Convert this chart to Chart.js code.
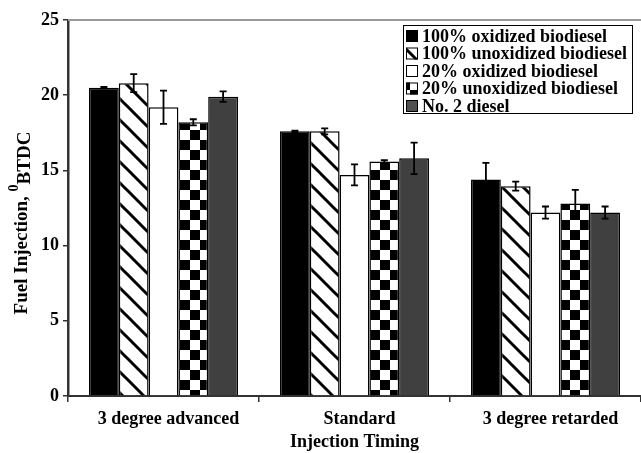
<!DOCTYPE html>
<html>
<head>
<meta charset="utf-8">
<script src="https://cdn.jsdelivr.net/npm/chart.js@4.4.0/dist/chart.umd.min.js"></script>
<style>
  html, body { margin: 0; padding: 0; background: #fff; }
  #wrap { width: 641px; height: 453px; position: relative; }
</style>
</head>
<body>
<div id="wrap"><canvas id="timingChart" width="641" height="453"></canvas></div>
<script>
// data
const categories = ['3 degree advanced', 'Standard', '3 degree retarded'];
const seriesNames = ['100% oxidized biodiesel', '100% unoxidized biodiesel', '20% oxidized biodiesel', '20% unoxidized biodiesel', 'No. 2 diesel'];
const oxid100 = [20.5, 17.6, 14.4];
const unox100 = [20.8, 17.6, 13.95];
const oxid20 = [19.2, 14.7, 12.2];
const unox20 = [18.2, 15.6, 12.8];
const diesel2 = [19.9, 15.8, 12.2];
const oxid100Err = [0.05, 0.05, 1.1];
const unox100Err = [0.6, 0.2, 0.3];
const oxid20Err = [1.1, 0.7, 0.4];
const unox20Err = [0.2, 0.08, 0.9];
const diesel2Err = [0.35, 1.05, 0.4];
const yTicks = [0, 5, 10, 15, 20, 25];

const FONT = '"Liberation Serif", "Times New Roman", serif';

function makeHatch(){
    let c = document.createElement('canvas');
    c.width = 21; c.height = 21;
    let g = c.getContext('2d');
    g.fillStyle = '#fff';
    g.fillRect(0, 0, 21, 21);
    g.strokeStyle = '#000';
    g.lineWidth = 3;
    for(let k = -1; k <= 1; k++){
        g.beginPath();
        g.moveTo(-2 + k * 21, -2);
        g.lineTo(23 + k * 21, 23);
        g.stroke();
    }
    return g.createPattern(c, 'repeat');
}

function makeChecker(){
    let c = document.createElement('canvas');
    c.width = 20; c.height = 20;
    let g = c.getContext('2d');
    g.fillStyle = '#fff';
    g.fillRect(0, 0, 20, 20);
    g.fillStyle = '#000';
    g.fillRect(0, 0, 10, 10);
    g.fillRect(10, 10, 10, 10);
    return g.createPattern(c, 'repeat');
}

let hatch = makeHatch();
let checker = makeChecker();

let fills = ['#000000', hatch, '#ffffff', checker, '#404040'];
let swatchFills = ['#000000', hatch, '#ffffff', checker, '#505050'];
let values = [oxid100, unox100, oxid20, unox20, diesel2];
let errors = [oxid100Err, unox100Err, oxid20Err, unox20Err, diesel2Err];

let datasets = [];
for(let i = 0; i < seriesNames.length; i++){
    datasets.push({
        label: seriesNames[i],
        data: values[i],
        errors: errors[i],
        backgroundColor: fills[i],
        borderColor: '#000',
        borderWidth: 1.5,
        borderSkipped: 'bottom',
        categoryPercentage: 0.78,
        barPercentage: 1.0
    });
}

// error bars, drawn from the y scale
const errorBars = {
    id: 'errorBars',
    afterDatasetsDraw(chart){
        let ctx = chart.ctx;
        let yScale = chart.scales.y;
        ctx.save();
        ctx.strokeStyle = '#000';
        ctx.lineWidth = 1.8;
        chart.data.datasets.forEach(function(ds, i){
            let meta = chart.getDatasetMeta(i);
            meta.data.forEach(function(bar, j){
                let v = ds.data[j];
                let e = ds.errors[j];
                let yTop = yScale.getPixelForValue(v + e);
                let yBot = yScale.getPixelForValue(v - e);
                ctx.beginPath();
                ctx.moveTo(bar.x, yTop);
                ctx.lineTo(bar.x, yBot);
                ctx.moveTo(bar.x - 3.5, yTop);
                ctx.lineTo(bar.x + 3.5, yTop);
                ctx.moveTo(bar.x - 3.5, yBot);
                ctx.lineTo(bar.x + 3.5, yBot);
                ctx.stroke();
            });
        });
        ctx.restore();
    }
};

// top frame line, y title with superscript, and the boxed legend
const decorations = {
    id: 'decorations',
    beforeDatasetsDraw(chart){
        let ctx = chart.ctx;
        let area = chart.chartArea;
        ctx.save();
        ctx.strokeStyle = '#999';
        ctx.lineWidth = 2;
        ctx.beginPath();
        ctx.moveTo(area.left, area.top);
        ctx.lineTo(chart.width, area.top);
        ctx.stroke();
        ctx.restore();
    },
    afterDraw(chart){
        let ctx = chart.ctx;
        ctx.save();

        // y axis title
        ctx.translate(22, 223);
        ctx.rotate(-Math.PI / 2);
        ctx.fillStyle = '#000';
        ctx.textBaseline = 'middle';
        let main = 'Fuel Injection, ';
        let sup = '0';
        let rest = 'BTDC';
        ctx.font = 'bold 19px ' + FONT;
        let w1 = ctx.measureText(main).width;
        let w3 = ctx.measureText(rest).width;
        ctx.font = 'bold 14px ' + FONT;
        let w2 = ctx.measureText(sup).width;
        let x0 = -(w1 + w2 + w3) / 2;
        ctx.font = 'bold 19px ' + FONT;
        ctx.textAlign = 'left';
        ctx.fillText(main, x0, 0);
        ctx.font = 'bold 14px ' + FONT;
        ctx.fillText(sup, x0 + w1, -8);
        ctx.font = 'bold 19px ' + FONT;
        ctx.fillText(rest, x0 + w1 + w2, 3);
        ctx.restore();

        // legend box
        ctx.save();
        let lx = 403, ly = 25, lw = 229, lh = 88;
        ctx.fillStyle = '#fff';
        ctx.fillRect(lx, ly, lw, lh);
        ctx.strokeStyle = '#000';
        ctx.lineWidth = 1;
        ctx.strokeRect(lx + 0.5, ly + 0.5, lw, lh);
        ctx.font = 'bold 18px ' + FONT;
        ctx.textBaseline = 'middle';
        ctx.textAlign = 'left';
        chart.data.datasets.forEach(function(ds, i){
            let cy = ly + 11 + i * 17.5;
            ctx.fillStyle = swatchFills[i];
            ctx.fillRect(lx + 3, cy - 6, 12, 12);
            ctx.strokeStyle = '#000';
            ctx.lineWidth = 1;
            ctx.strokeRect(lx + 3.5, cy - 5.5, 11, 11);
            ctx.fillStyle = '#000';
            ctx.fillText(ds.label, lx + 19, cy + 1);
        });
        ctx.restore();
    }
};

let ctx = document.getElementById('timingChart').getContext('2d');
let timingChart = new Chart(ctx, {
    type: 'bar',
    data: {
        labels: categories,
        datasets: datasets
    },
    plugins: [errorBars, decorations],
    options: {
        responsive: false,
        animation: false,
        devicePixelRatio: 1,
        layout: {
            padding: { top: 20, right: -3, left: 0, bottom: 0 }
        },
        plugins: {
            legend: { display: false },
            tooltip: { enabled: false },
            title: { display: false }
        },
        scales: {
            x: {
                offset: true,
                grid: {
                    offset: true,
                    drawOnChartArea: false,
                    drawTicks: true,
                    tickLength: 6,
                    color: '#333',
                    lineWidth: 1.5
                },
                border: { color: '#333', width: 2 },
                ticks: {
                    color: '#000',
                    padding: 7,
                    labelOffset: 5,
                    maxRotation: 0,
                    font: { family: FONT, size: 18, weight: 'bold' }
                },
                title: {
                    display: true,
                    text: 'Injection Timing',
                    color: '#000',
                    padding: { top: 0, bottom: 0 },
                    font: { family: FONT, size: 18, weight: 'bold' }
                },
                afterFit(scale){
                    scale.height = 57;
                }
            },
            y: {
                min: 0,
                max: 25,
                afterBuildTicks(scale){
                    scale.ticks = yTicks.map(function(v){ return { value: v }; });
                },
                grid: {
                    drawOnChartArea: false,
                    drawTicks: true,
                    tickLength: 5,
                    color: '#333',
                    lineWidth: 1.5
                },
                border: { color: '#333', width: 2.5 },
                ticks: {
                    color: '#000',
                    padding: 4,
                    font: { family: FONT, size: 18, weight: 'bold' }
                },
                afterFit(scale){
                    scale.width = 68;
                }
            }
        }
    }
});
</script>
</body>
</html>
